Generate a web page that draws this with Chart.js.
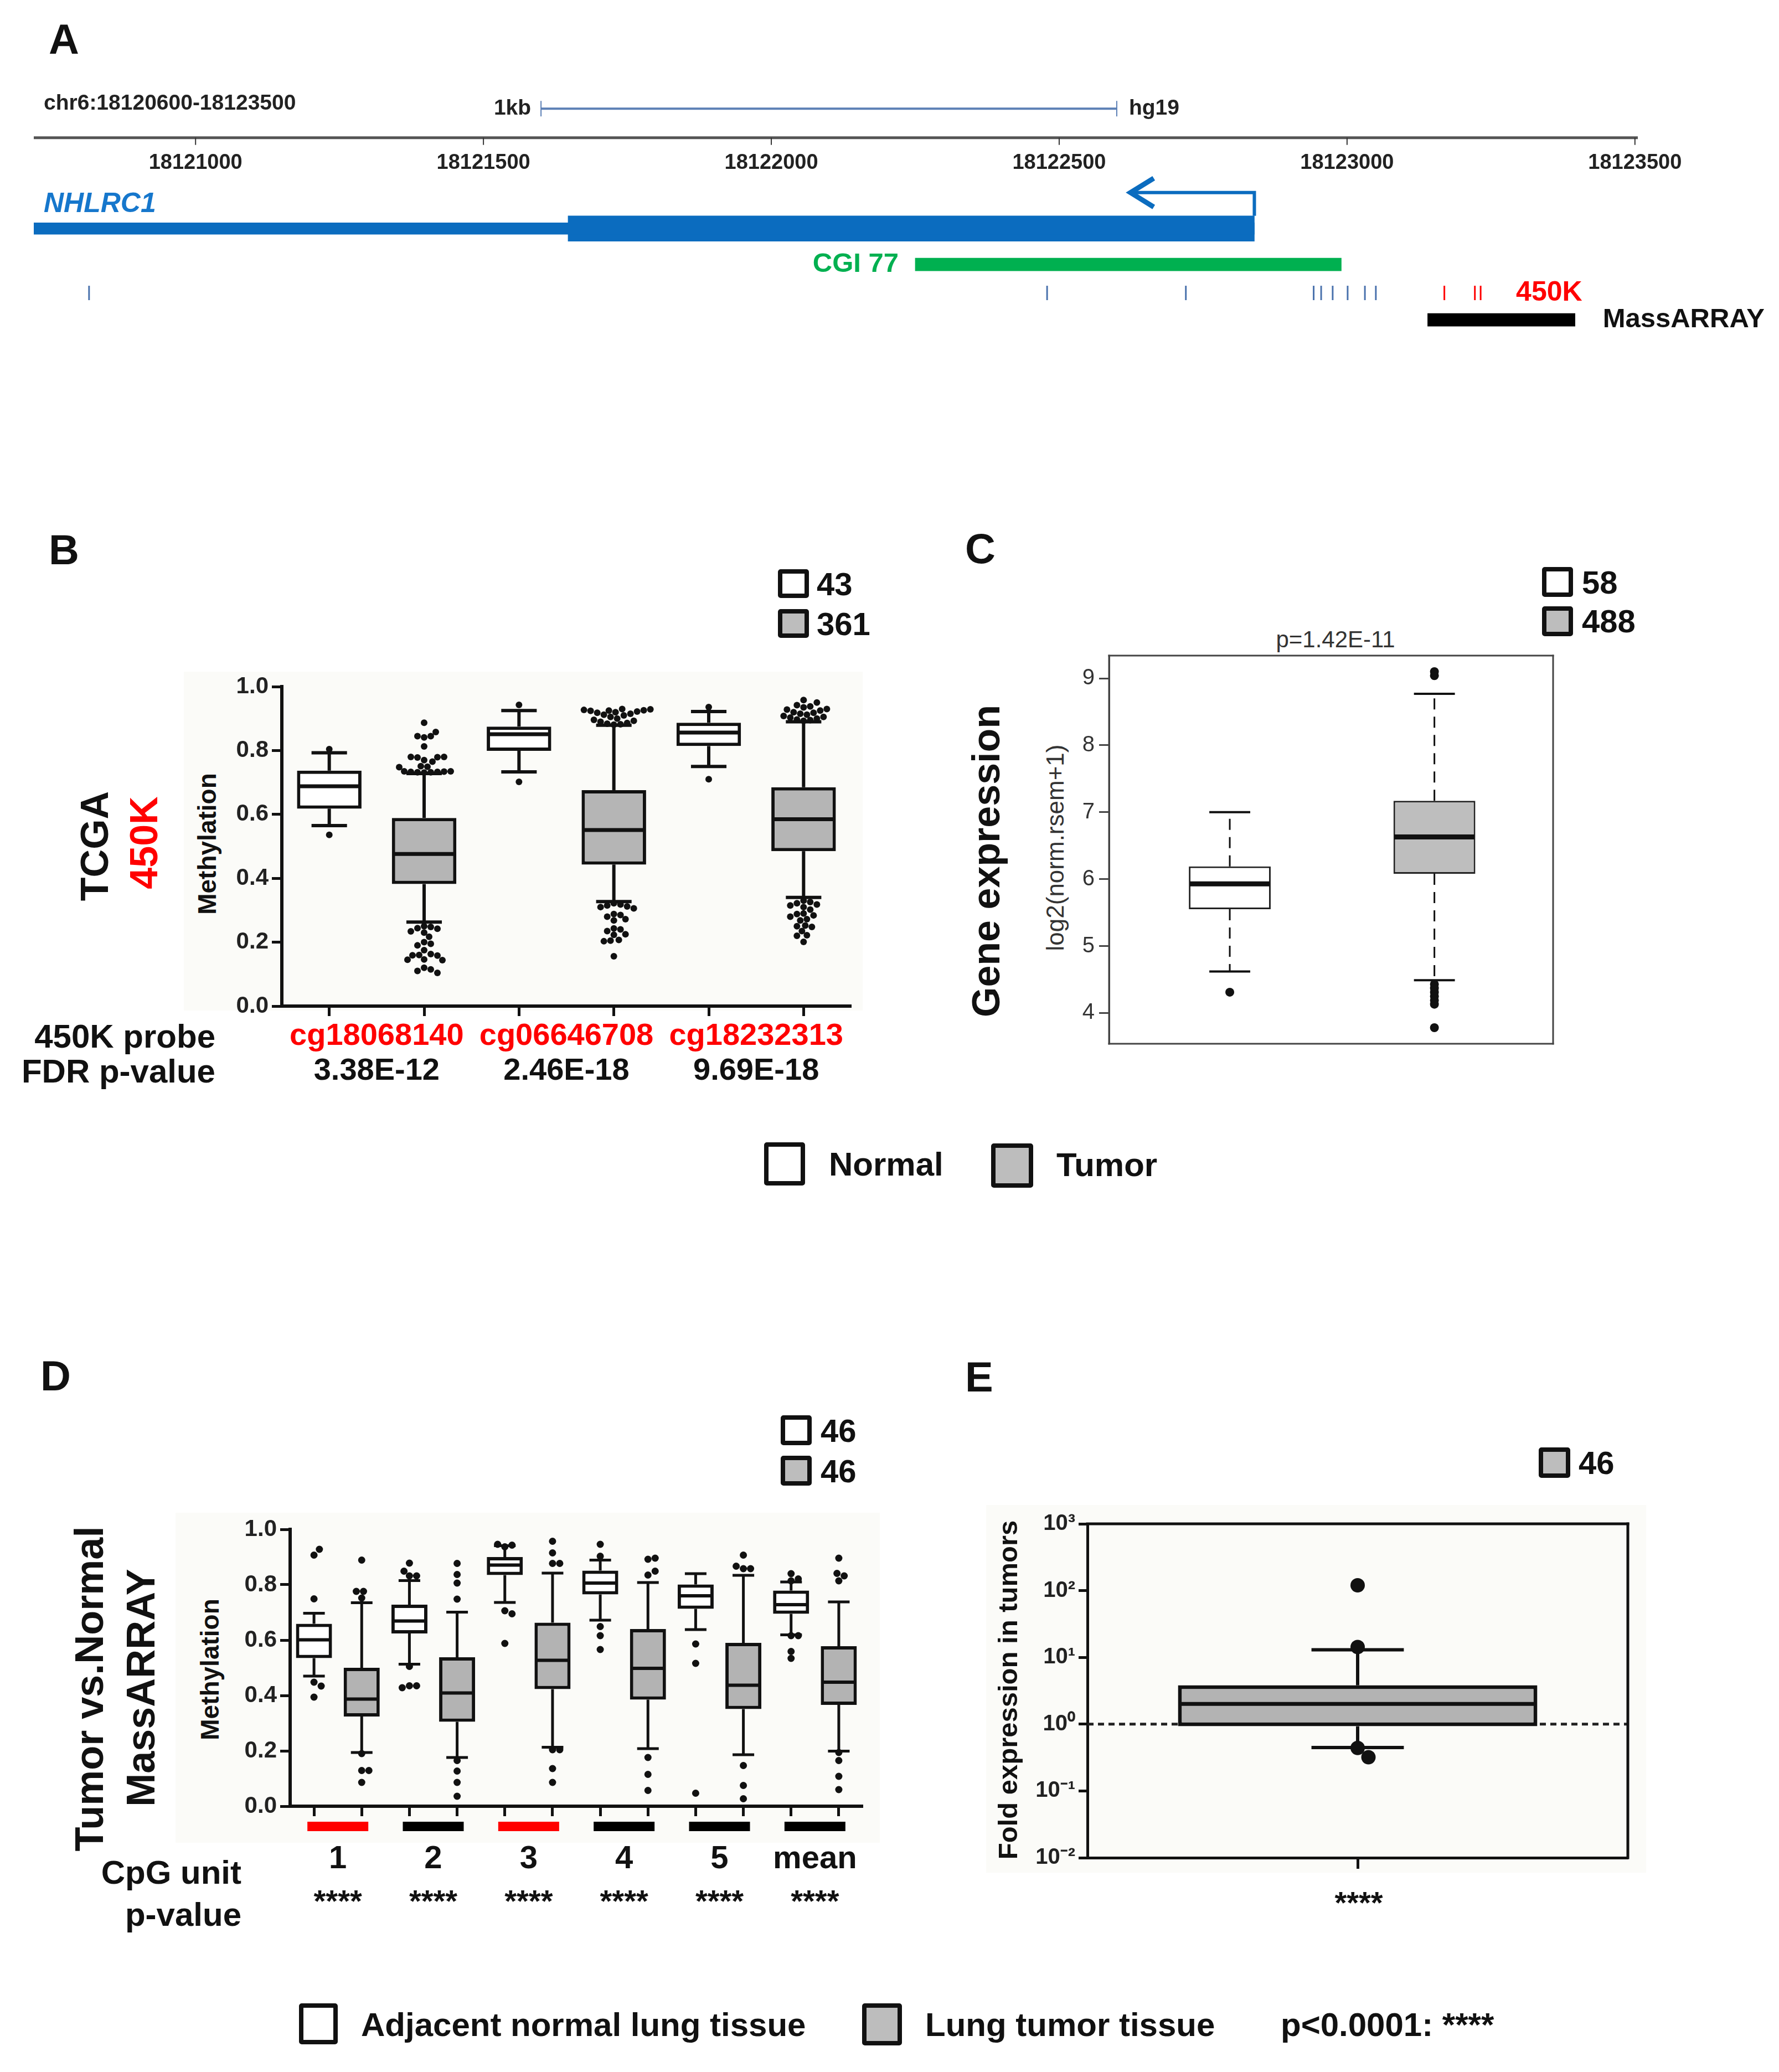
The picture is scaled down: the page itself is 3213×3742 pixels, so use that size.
<!DOCTYPE html>
<html lang="en">
<head>
<meta charset="utf-8">
<title>NHLRC1 methylation and expression</title>
<script src="https://cdn.jsdelivr.net/npm/chart.js@4.4.1/dist/chart.umd.min.js"></script>
<style>
  html, body { margin: 0; padding: 0; background: #fff; }
  #page { position: relative; width: 3213px; height: 3742px; overflow: hidden;
          font-family: "Liberation Sans", Arial, Helvetica, sans-serif; color: #111; }
  #page canvas { position: absolute; }
  .t { position: absolute; white-space: nowrap; line-height: 1; font-weight: bold; }
  .vc { transform: translateY(-50%); }
  .rc { transform: translate(-100%, -50%); }
  .cc { transform: translate(-50%, -50%); }
  .rot { transform: translate(-50%, -50%) rotate(-90deg); }
  .key { position: absolute; box-sizing: border-box; border: 8px solid #111; border-radius: 5px; background: #fff; }
  .key.g { background: #bdbdbd; }
  .bg { position: absolute; background: #fbfbf8; }
  .letter { font-size: 76px; }
</style>
</head>
<body>
<div id="page">
  <!-- faint plot backgrounds -->
  <div class="bg" style="left:332px;top:1213px;width:1226px;height:612px"></div>
  <div class="bg" style="left:317px;top:2732px;width:1272px;height:596px"></div>
  <div class="bg" style="left:1781px;top:2718px;width:1192px;height:664px"></div>

  <!-- panel letters -->
  <div class="t letter" style="left:88px;top:33px">A</div>
  <div class="t letter" style="left:88px;top:955px">B</div>
  <div class="t letter" style="left:1743px;top:953px">C</div>
  <div class="t letter" style="left:73px;top:2447px">D</div>
  <div class="t letter" style="left:1743px;top:2449px">E</div>

  <canvas id="chartA" width="3213" height="690" style="left:0;top:0"></canvas>

  <!-- B labels -->
  <div class="key" style="left:1405px;top:1028px;width:56px;height:52px"></div>
  <div class="t vc" style="left:1475px;top:1055px;font-size:58px">43</div>
  <div class="key g" style="left:1405px;top:1100px;width:56px;height:52px"></div>
  <div class="t vc" style="left:1475px;top:1127px;font-size:58px">361</div>
  <div class="t rot" style="left:171px;top:1528px;font-size:70px">TCGA</div>
  <div class="t rot" style="left:260px;top:1522px;font-size:70px;color:#ff0000">450K</div>
  <div class="t rot" style="left:374px;top:1524px;font-size:46px">Methylation</div>
  <div class="t rc" style="left:389px;top:1872px;font-size:60px">450K probe</div>
  <div class="t rc" style="left:389px;top:1935px;font-size:60px">FDR p-value</div>
  <canvas id="chartB" width="1167" height="800" style="left:380px;top:1190px"></canvas>

  <!-- C labels -->
  <div class="key" style="left:2785px;top:1024px;width:56px;height:54px"></div>
  <div class="t vc" style="left:2857px;top:1052px;font-size:58px">58</div>
  <div class="key g" style="left:2785px;top:1095px;width:56px;height:54px"></div>
  <div class="t vc" style="left:2857px;top:1122px;font-size:58px">488</div>
  <div class="t rot" style="left:1781px;top:1555px;font-size:70px">Gene expression</div>
  <div class="t rot" style="left:1906px;top:1531px;font-size:44px;font-weight:normal;color:#333">log2(norm.rsem+1)</div>
  <div class="t cc" style="left:2412px;top:1155px;font-size:42px;font-weight:normal;color:#333">p=1.42E-11</div>
  <canvas id="chartC" width="950" height="800" style="left:1900px;top:1140px"></canvas>

  <!-- shared legend B/C -->
  <div class="key" style="left:1380px;top:2063px;width:74px;height:78px"></div>
  <div class="t vc" style="left:1497px;top:2103px;font-size:60px">Normal</div>
  <div class="key g" style="left:1790px;top:2065px;width:76px;height:80px"></div>
  <div class="t vc" style="left:1908px;top:2104px;font-size:60px">Tumor</div>

  <!-- D labels -->
  <div class="key" style="left:1410px;top:2556px;width:56px;height:54px"></div>
  <div class="t vc" style="left:1482px;top:2584px;font-size:58px">46</div>
  <div class="key g" style="left:1410px;top:2629px;width:56px;height:54px"></div>
  <div class="t vc" style="left:1482px;top:2657px;font-size:58px">46</div>
  <div class="t rot" style="left:161px;top:3050px;font-size:72px">Tumor vs.Normal</div>
  <div class="t rot" style="left:254px;top:3048px;font-size:72px">MassARRAY</div>
  <div class="t rot" style="left:379px;top:3015px;font-size:46px">Methylation</div>
  <div class="t rc" style="left:436px;top:3382px;font-size:60px">CpG unit</div>
  <div class="t rc" style="left:436px;top:3458px;font-size:60px">p-value</div>
  <canvas id="chartD" width="1178" height="758" style="left:390px;top:2712px"></canvas>

  <!-- E labels -->
  <div class="key g" style="left:2779px;top:2614px;width:57px;height:55px"></div>
  <div class="t vc" style="left:2851px;top:2642px;font-size:58px">46</div>
  <div class="t rot" style="left:1820px;top:3052px;font-size:49px">Fold expression in tumors</div>
  <div class="t cc" style="left:2454px;top:3436px;font-size:56px">****</div>
  <canvas id="chartE" width="1200" height="760" style="left:1780px;top:2700px"></canvas>

  <!-- bottom legend D/E -->
  <div class="key" style="left:540px;top:3618px;width:70px;height:74px"></div>
  <div class="t vc" style="left:652px;top:3657px;font-size:60px">Adjacent normal lung tissue</div>
  <div class="key g" style="left:1557px;top:3618px;width:72px;height:76px"></div>
  <div class="t vc" style="left:1671px;top:3657px;font-size:60px">Lung tumor tissue</div>
  <div class="t vc" style="left:2313px;top:3657px;font-size:60px">p&lt;0.0001: ****</div>
</div>

<script>
// ---------- A: hg19 region around NHLRC1 ----------
const regionLabel = 'chr6:18120600-18123500';
const genomeRange = [18120719, 18123505];
const genomeTicks = [18121000, 18121500, 18122000, 18122500, 18123000, 18123500];
const scaleBar = [18121600, 18122600];
const geneName = 'NHLRC1';
const geneExon = [18120600, 18122839];
const geneCds = [18121647, 18122839];
const geneTss = 18122839;
const tssArrowTip = 18122620;
const cgiName = 'CGI 77';
const cgiRange = [18122250, 18122990];
const massArrayRange = [18123140, 18123396];
const probeSites = [18120815, 18122479, 18122720, 18122942, 18122955, 18122975, 18123001, 18123031, 18123050];
const studiedProbeSites = [18123169, 18123222, 18123232];

// ---------- B: TCGA 450K methylation ----------
const tcgaProbes = ['cg18068140', 'cg06646708', 'cg18232313'];
const tcgaFdr = ['3.38E-12', '2.46E-18', '9.69E-18'];
const methTicks = [0, 0.2, 0.4, 0.6, 0.8, 1.0];
// [low whisker, Q1, median, Q3, high whisker]
const tcgaNormalStats = [[0.565, 0.618, 0.688, 0.737, 0.793], [0.733, 0.799, 0.851, 0.875, 0.925], [0.750, 0.814, 0.856, 0.887, 0.922]];
const tcgaTumorStats = [[0.263, 0.382, 0.476, 0.589, 0.728], [0.327, 0.443, 0.551, 0.676, 0.879], [0.340, 0.485, 0.585, 0.685, 0.890]];
const tcgaNormalOutliers = [[0.804, 0.536], [0.943, 0.702], [0.936, 0.710]];
const tcgaTumorOutliers = [
  [0.887, 0.858, 0.845, 0.845, 0.841, 0.813, 0.780, 0.780, 0.779, 0.778, 0.770, 0.765, 0.751, 0.749, 0.748, 0.735, 0.735, 0.734, 0.733, 0.733, 0.732, 0.732, 0.731,
   0.250, 0.248, 0.244, 0.242, 0.234, 0.230, 0.217, 0.200, 0.195, 0.190, 0.175, 0.163, 0.160, 0.159, 0.158, 0.146, 0.145, 0.144, 0.120, 0.115, 0.110, 0.104],
  [0.930, 0.929, 0.927, 0.926, 0.925, 0.924, 0.922, 0.920, 0.918, 0.915, 0.912, 0.910, 0.905, 0.900, 0.896, 0.893, 0.890, 0.886, 0.884, 0.882, 0.881,
   0.322, 0.318, 0.315, 0.312, 0.310, 0.306, 0.288, 0.285, 0.280, 0.272, 0.268, 0.243, 0.240, 0.235, 0.225, 0.223, 0.207, 0.205, 0.203, 0.156],
  [0.958, 0.950, 0.942, 0.938, 0.935, 0.930, 0.928, 0.925, 0.920, 0.918, 0.915, 0.912, 0.908, 0.905, 0.903, 0.900, 0.897, 0.895, 0.893,
   0.330, 0.326, 0.322, 0.318, 0.315, 0.310, 0.302, 0.290, 0.288, 0.284, 0.280, 0.272, 0.268, 0.252, 0.250, 0.248, 0.235, 0.222, 0.220, 0.201]
];

// ---------- C: TCGA gene expression ----------
const exprGroups = ['Normal', 'Tumor'];
const exprTicks = [4, 5, 6, 7, 8, 9];
const exprStats = [[4.62, 5.55, 5.93, 6.19, 7.00], [4.49, 6.08, 6.63, 7.17, 8.77]];
const exprOutliers = [[4.31], [9.10, 9.04, 4.43, 4.37, 4.31, 4.25, 4.19, 4.13, 3.78]];

// ---------- D: MassARRAY methylation ----------
const cpgUnits = ['1', '2', '3', '4', '5', 'mean'];
const cpgPvalues = ['****', '****', '****', '****', '****', '****'];
const cpgIn450K = [true, false, true, false, false, false];
const massNormalStats = [
  [0.470, 0.535, 0.601, 0.659, 0.697], [0.513, 0.624, 0.669, 0.728, 0.815], [0.736, 0.835, 0.871, 0.900, 0.941],
  [0.672, 0.765, 0.806, 0.851, 0.889], [0.638, 0.713, 0.760, 0.801, 0.840], [0.619, 0.695, 0.728, 0.779, 0.810]];
const massTumorStats = [
  [0.194, 0.324, 0.387, 0.500, 0.735], [0.176, 0.305, 0.409, 0.538, 0.701], [0.213, 0.423, 0.527, 0.663, 0.842],
  [0.208, 0.385, 0.498, 0.640, 0.808], [0.186, 0.351, 0.437, 0.590, 0.834], [0.199, 0.366, 0.448, 0.578, 0.738]];
const massNormalOutliers = [
  [0.928, 0.907, 0.749, 0.448, 0.434, 0.394], [0.878, 0.849, 0.832, 0.832, 0.505, 0.435, 0.428, 0.435],
  [0.946, 0.943, 0.937, 0.706, 0.695, 0.588], [0.946, 0.903, 0.649, 0.616, 0.566],
  [0.586, 0.516, 0.047], [0.840, 0.821, 0.814, 0.616, 0.616, 0.559, 0.534]];
const massTumorOutliers = [
  [0.889, 0.776, 0.776, 0.752, 0.190, 0.129, 0.129, 0.086], [0.877, 0.837, 0.806, 0.748, 0.165, 0.127, 0.086, 0.036],
  [0.957, 0.915, 0.877, 0.877, 0.204, 0.204, 0.136, 0.086], [0.896, 0.892, 0.849, 0.835, 0.176, 0.115, 0.057],
  [0.907, 0.867, 0.858, 0.858, 0.147, 0.075, 0.027], [0.896, 0.841, 0.832, 0.814, 0.194, 0.165, 0.108, 0.060]];

// ---------- E: qPCR fold expression ----------
const foldGroups = ['Tumor'];
const foldTicks = [0.01, 0.1, 1, 10, 100, 1000];
const foldStats = [[0.447, 0.93, 2.01, 3.82, 13.0]];
const foldOutliers = [[120, 14.3, 0.44, 0.32]];

// ---------- shared helpers ----------
const FONT = '"Liberation Sans", Arial, Helvetica, sans-serif';
Chart.defaults.font.family = FONT;
Chart.defaults.color = '#111';
const geneBlue = '#0b6cbf';

const base = {
  responsive: false, animation: false, devicePixelRatio: 1, events: [],
  plugins: { legend: { display: false }, tooltip: { enabled: false } }
};
const boxRange = s => (s ? [s[1], s[3]] : null);
const interleave = (a, b) => a.flatMap((v, i) => [v, b[i]]);
const none = n => new Array(n).fill(null);

function seg(ctx, x1, y1, x2, y2) {
  ctx.beginPath(); ctx.moveTo(x1, y1); ctx.lineTo(x2, y2); ctx.stroke();
}

// simple beeswarm: put each dot at the nearest free slot left/right of the centre
function swarm(cx, pys, r) {
  const placed = [];
  const step = r * 0.5, minD = r * 1.9;
  return pys.map(py => {
    let px = cx;
    for (let k = 0; k < 400; k++) {
      px = cx + Math.ceil(k / 2) * step * (k % 2 ? 1 : -1);
      if (placed.every(p => Math.hypot(p[0] - px, p[1] - py) >= minD)) break;
    }
    placed.push([px, py]);
    return [px, py];
  });
}

// whiskers, caps, medians and outliers on top of the floating bars
function boxPlugin(cfg) {
  return {
    id: 'boxParts',
    beforeDatasetsDraw(chart) { if (cfg.before) cfg.before(chart); },
    afterDatasetsDraw(chart) {
      const ctx = chart.ctx, ys = chart.scales.y, st = cfg.style;
      cfg.series.forEach(s => {
        const meta = chart.getDatasetMeta(s.dataset);
        s.stats.forEach((five, i) => {
          if (!five) return;
          const bar = meta.data[i];
          const cx = bar.x, w = bar.width;
          const [lo, q1, med, q3, hi] = five.map(v => ys.getPixelForValue(v));
          ctx.save();
          ctx.strokeStyle = st.color;
          ctx.lineWidth = st.whisker;
          ctx.setLineDash(st.dash || []);
          seg(ctx, cx, q3, cx, hi);
          seg(ctx, cx, q1, cx, lo);
          ctx.setLineDash([]);
          ctx.lineWidth = st.cap;
          const half = w * st.capRatio / 2;
          seg(ctx, cx - half, hi, cx + half, hi);
          seg(ctx, cx - half, lo, cx + half, lo);
          ctx.lineWidth = st.median;
          seg(ctx, cx - w / 2 + st.borderW / 2, med, cx + w / 2 - st.borderW / 2, med);
          const pys = (s.outliers[i] || []).map(v => ys.getPixelForValue(v));
          const mid = (q1 + q3) / 2;
          const up = pys.filter(p => p < mid).sort((a, b) => b - a);
          const dn = pys.filter(p => p >= mid).sort((a, b) => a - b);
          ctx.fillStyle = st.color;
          [up, dn].forEach(g => {
            const pts = st.swarm === false ? g.map(p => [cx, p]) : swarm(cx, g, st.dot);
            pts.forEach(([px, py]) => { ctx.beginPath(); ctx.arc(px, py, st.dot, 0, Math.PI * 2); ctx.fill(); });
          });
          ctx.restore();
        });
      });
    }
  };
}

// labels centred under each normal/tumour pair
function pairLabels(cfg) {
  return {
    id: 'pairLabels',
    afterDraw(chart) {
      const ctx = chart.ctx, xs = chart.scales.x, bottom = chart.chartArea.bottom;
      ctx.save();
      ctx.textAlign = 'center'; ctx.textBaseline = 'middle';
      cfg.labels.forEach((lab, i) => {
        const cx = (xs.getPixelForTick(2 * i) + xs.getPixelForTick(2 * i + 1)) / 2;
        if (cfg.barColors) {
          ctx.fillStyle = cfg.barColors[i];
          ctx.fillRect(cx - cfg.barW / 2, bottom + cfg.barDy, cfg.barW, cfg.barH);
        }
        ctx.font = cfg.font; ctx.fillStyle = cfg.colors ? cfg.colors[i] : '#111';
        ctx.fillText(lab, cx, bottom + cfg.dy1);
        ctx.font = cfg.font2; ctx.fillStyle = '#111';
        ctx.fillText(cfg.sub[i], cx, bottom + cfg.dy2);
      });
      ctx.restore();
    }
  };
}

function framePlugin(color, width, sides) {
  return {
    id: 'frame',
    afterDraw(chart) {
      const { ctx, chartArea: a } = chart;
      ctx.save(); ctx.strokeStyle = color; ctx.lineWidth = width; ctx.lineCap = 'square';
      if (sides.includes('t')) seg(ctx, a.left, a.top, a.right, a.top);
      if (sides.includes('r')) seg(ctx, a.right, a.top, a.right, a.bottom);
      if (sides.includes('b')) seg(ctx, a.left, a.bottom, a.right, a.bottom);
      if (sides.includes('l')) seg(ctx, a.left, a.top, a.left, a.bottom);
      ctx.restore();
    }
  };
}

function methylY(width) {
  return {
    min: 0, max: 1,
    afterBuildTicks: s => { s.ticks = methTicks.map(v => ({ value: v })); },
    ticks: { callback: v => v.toFixed(1), font: { size: 42, weight: 'bold' }, color: '#222', padding: 6 },
    grid: { drawOnChartArea: false, tickLength: 18, tickWidth: 5, tickColor: '#111' },
    border: { width: 6, color: '#111' },
    afterFit: s => { s.width = width; }
  };
}
function methylX(height) {
  return {
    offset: true,
    ticks: { display: false },
    grid: { offset: false, drawOnChartArea: false, tickLength: 18, tickWidth: 5, tickColor: '#111' },
    border: { width: 6, color: '#111' },
    afterFit: s => { s.height = height; }
  };
}

// ---------- A ----------
// vertical placement of each track row (canvas pixels)
const trackY = { region: 180, scaleBar: 189, axis: 244, arrow: 348, label: 370, gene: 416, cgi: 484, probe: 538, mass: 589 };

const genomeDecor = {
  id: 'genomeDecor',
  afterDatasetsDraw(chart) {
    const { ctx, chartArea } = chart;
    const X = v => chart.scales.x.getPixelForValue(v);
    const Y = v => chart.scales.y.getPixelForValue(v);
    ctx.save();
    ctx.textBaseline = 'middle';

    // coordinate ruler, drawn from the x scale
    const ay = Y(trackY.axis);
    ctx.strokeStyle = '#555'; ctx.lineWidth = 5;
    seg(ctx, chartArea.left, ay, chartArea.right, ay);
    ctx.strokeStyle = '#333'; ctx.lineWidth = 2;
    ctx.font = `bold 38px ${FONT}`; ctx.fillStyle = '#222'; ctx.textAlign = 'center';
    genomeTicks.forEach(v => {
      const x = X(v);
      seg(ctx, x, ay, x, ay + 13);
      ctx.fillText(String(v), x, ay + 46);
    });

    ctx.font = `bold 39px ${FONT}`; ctx.textAlign = 'left';
    ctx.fillText(regionLabel, chartArea.left + 18, Y(trackY.region));

    const s0 = X(scaleBar[0]), s1 = X(scaleBar[1]), sy = Y(trackY.scaleBar);
    ctx.strokeStyle = '#5b7fb5'; ctx.lineWidth = 4;
    seg(ctx, s0, sy, s1, sy);
    ctx.lineWidth = 2;
    seg(ctx, s0, sy - 14, s0, sy + 14);
    seg(ctx, s1, sy - 14, s1, sy + 14);
    ctx.font = `bold 39px ${FONT}`; ctx.fillStyle = '#222';
    ctx.textAlign = 'right'; ctx.fillText('1kb', s0 - 18, sy);
    ctx.textAlign = 'left'; ctx.fillText('hg19', s1 + 22, sy);

    const tx = X(geneTss), ax = X(tssArrowTip), ary = Y(trackY.arrow), gy = Y(trackY.gene) - 23;
    ctx.strokeStyle = geneBlue; ctx.lineWidth = 6; ctx.lineJoin = 'miter';
    ctx.beginPath(); ctx.moveTo(tx, gy); ctx.lineTo(tx, ary); ctx.lineTo(ax + 6, ary); ctx.stroke();
    ctx.lineWidth = 9;
    ctx.beginPath(); ctx.moveTo(ax + 46, ary - 26); ctx.lineTo(ax + 4, ary); ctx.lineTo(ax + 46, ary + 26); ctx.stroke();

    ctx.font = `italic bold 50px ${FONT}`; ctx.fillStyle = '#1677cc'; ctx.textAlign = 'left';
    ctx.fillText(geneName, chartArea.left + 18, Y(trackY.label));
    ctx.font = `bold 49px ${FONT}`; ctx.fillStyle = '#00b050'; ctx.textAlign = 'right';
    ctx.fillText(cgiName, X(cgiRange[0]) - 30, Y(trackY.cgi));
    ctx.font = `bold 50px ${FONT}`; ctx.fillStyle = '#ff0000'; ctx.textAlign = 'left';
    ctx.fillText('450K', X(studiedProbeSites[studiedProbeSites.length - 1]) + 64, Y(trackY.probe));
    ctx.font = `bold 49px ${FONT}`; ctx.fillStyle = '#111';
    ctx.fillText('MassARRAY', X(massArrayRange[1]) + 50, Y(trackY.mass));
    ctx.restore();
  }
};

const trackBar = { stack: 'track', indexAxis: 'y', borderWidth: 0 };
new Chart(document.getElementById('chartA'), {
  type: 'bar',
  data: {
    datasets: [
      { ...trackBar, label: 'NHLRC1 exon', data: [{ y: trackY.gene, x: geneExon }], backgroundColor: geneBlue, barThickness: 21 },
      { ...trackBar, label: 'NHLRC1 CDS', data: [{ y: trackY.gene, x: geneCds }], backgroundColor: geneBlue, barThickness: 46 },
      { ...trackBar, label: cgiName, data: [{ y: trackY.cgi, x: cgiRange }], backgroundColor: '#00b050', barThickness: 23 },
      { ...trackBar, label: 'MassARRAY', data: [{ y: trackY.mass, x: massArrayRange }], backgroundColor: '#000', barThickness: 23 },
      { type: 'scatter', label: 'CpG probes', data: probeSites.map(p => ({ x: p, y: trackY.probe })),
        pointStyle: 'line', rotation: 90, radius: 13, borderWidth: 3, borderColor: '#4a72ad' },
      { type: 'scatter', label: '450K probes', data: studiedProbeSites.map(p => ({ x: p, y: trackY.probe })),
        pointStyle: 'line', rotation: 90, radius: 13, borderWidth: 3, borderColor: '#ff0000' }
    ]
  },
  options: {
    ...base,
    indexAxis: 'y',
    layout: { padding: { left: 61, right: 255, top: 0, bottom: 0 } },
    scales: {
      x: { type: 'linear', min: genomeRange[0], max: genomeRange[1], offset: false, stacked: false, display: false },
      y: { type: 'linear', min: 0, max: 690, reverse: true, offset: false, grace: 0, grid: { offset: false }, display: false }
    }
  },
  plugins: [genomeDecor]
});

// ---------- B ----------
const nB = tcgaProbes.length;
const boxB = { borderColor: '#111', borderWidth: 6, borderSkipped: false, grouped: false, barPercentage: 0.68, categoryPercentage: 1 };
new Chart(document.getElementById('chartB'), {
  type: 'bar',
  data: {
    labels: interleave(tcgaProbes.map(p => p + ' normal'), tcgaProbes.map(p => p + ' tumor')),
    datasets: [
      { ...boxB, label: 'Normal', data: interleave(tcgaNormalStats.map(boxRange), none(nB)), backgroundColor: '#fff' },
      { ...boxB, label: 'Tumor', data: interleave(none(nB), tcgaTumorStats.map(boxRange)), backgroundColor: '#b5b5b5' }
    ]
  },
  options: {
    ...base,
    layout: { padding: { left: 0, right: 10, top: 50, bottom: 0 } },
    scales: { x: methylX(173), y: methylY(129) }
  },
  plugins: [
    boxPlugin({
      series: [
        { dataset: 0, stats: interleave(tcgaNormalStats, none(nB)), outliers: interleave(tcgaNormalOutliers, none(nB)) },
        { dataset: 1, stats: interleave(none(nB), tcgaTumorStats), outliers: interleave(none(nB), tcgaTumorOutliers) }
      ],
      style: { color: '#111', whisker: 6, cap: 6, capRatio: 0.55, median: 7, dot: 6, borderW: 6 }
    }),
    pairLabels({ labels: tcgaProbes, colors: tcgaProbes.map(() => '#ff0000'), sub: tcgaFdr,
      font: `bold 56px ${FONT}`, font2: `bold 56px ${FONT}`, dy1: 55, dy2: 118 })
  ]
});

// ---------- C ----------
const boxC = { borderColor: '#222', borderWidth: 3, borderSkipped: false, grouped: false, barPercentage: 0.4, categoryPercentage: 1 };
new Chart(document.getElementById('chartC'), {
  type: 'bar',
  data: {
    datasets: exprGroups.map((g, i) => ({
      ...boxC, label: g, data: [{ x: i + 1, y: boxRange(exprStats[i]) }], backgroundColor: i ? '#bebebe' : '#fff'
    }))
  },
  options: {
    ...base,
    layout: { padding: { left: 0, right: 45, top: 44, bottom: 55 } },
    scales: {
      x: { type: 'linear', min: 0.41, max: 2.58, offset: false, display: false,
           afterBuildTicks: s => { s.ticks = exprGroups.map((g, i) => ({ value: i + 1 })); } },
      y: {
        min: 3.54, max: 9.34,
        afterBuildTicks: s => { s.ticks = exprTicks.map(v => ({ value: v })); },
        ticks: { callback: v => String(v), font: { size: 40 }, color: '#333', padding: 8 },
        grid: { drawOnChartArea: false, tickLength: 18, tickWidth: 3, tickColor: '#444' },
        border: { width: 3, color: '#444' },
        afterFit: s => { s.width = 103; }
      }
    }
  },
  plugins: [
    boxPlugin({
      series: exprGroups.map((g, i) => ({ dataset: i, stats: [exprStats[i]], outliers: [exprOutliers[i]] })),
      style: { color: '#111', whisker: 3, dash: [20, 13], cap: 4, capRatio: 0.5, median: 9, dot: 8, borderW: 3, swarm: false }
    }),
    framePlugin('#444', 3, 'trbl')
  ]
});

// ---------- D ----------
const nD = cpgUnits.length;
const boxD = { borderColor: '#111', borderWidth: 6, borderSkipped: false, grouped: false, barPercentage: 0.755, categoryPercentage: 1 };
new Chart(document.getElementById('chartD'), {
  type: 'bar',
  data: {
    labels: interleave(cpgUnits.map(u => u + ' normal'), cpgUnits.map(u => u + ' tumor')),
    datasets: [
      { ...boxD, label: 'Adjacent normal lung tissue', data: interleave(massNormalStats.map(boxRange), none(nD)), backgroundColor: '#fff' },
      { ...boxD, label: 'Lung tumor tissue', data: interleave(none(nD), massTumorStats.map(boxRange)), backgroundColor: '#b3b3b3' }
    ]
  },
  options: {
    ...base,
    layout: { padding: { left: 0, right: 10, top: 50, bottom: 0 } },
    scales: { x: methylX(208), y: methylY(134) }
  },
  plugins: [
    boxPlugin({
      series: [
        { dataset: 0, stats: interleave(massNormalStats, none(nD)), outliers: interleave(massNormalOutliers, none(nD)) },
        { dataset: 1, stats: interleave(none(nD), massTumorStats), outliers: interleave(none(nD), massTumorOutliers) }
      ],
      style: { color: '#111', whisker: 5, cap: 5, capRatio: 0.6, median: 6, dot: 6.5, borderW: 6 }
    }),
    pairLabels({ labels: cpgUnits, sub: cpgPvalues, font: `bold 58px ${FONT}`, font2: `bold 56px ${FONT}`,
      dy1: 96, dy2: 175, barColors: cpgIn450K.map(b => (b ? '#ff0000' : '#000')), barW: 110, barH: 17, barDy: 28 })
  ]
});

// ---------- E ----------
const supDigits = { '-': '\u207B', '0': '\u2070', '1': '\u00B9', '2': '\u00B2', '3': '\u00B3' };
const powerLabel = v => '10' + String(Math.round(Math.log10(v))).split('').map(c => supDigits[c]).join('');
new Chart(document.getElementById('chartE'), {
  type: 'bar',
  data: {
    labels: foldGroups,
    datasets: [{
      label: 'Fold expression', data: foldStats.map(boxRange), backgroundColor: '#b3b3b3',
      borderColor: '#111', borderWidth: 7, borderSkipped: false, grouped: false, barPercentage: 0.665, categoryPercentage: 1
    }]
  },
  options: {
    ...base,
    layout: { padding: { left: 0, right: 40, top: 52, bottom: 0 } },
    scales: {
      x: {
        offset: true,
        ticks: { display: false },
        grid: { offset: false, drawOnChartArea: false, tickLength: 20, tickWidth: 5, tickColor: '#111' },
        border: { width: 5, color: '#111' },
        afterFit: s => { s.height = 105; }
      },
      y: {
        type: 'logarithmic', min: 0.01, max: 1000,
        afterBuildTicks: s => { s.ticks = foldTicks.map(v => ({ value: v })); },
        ticks: { callback: v => powerLabel(v), font: { size: 40, weight: 'bold' }, color: '#222', padding: 6 },
        grid: { drawOnChartArea: false, tickLength: 16, tickWidth: 5, tickColor: '#111' },
        border: { width: 5, color: '#111' },
        afterFit: s => { s.width = 184; }
      }
    }
  },
  plugins: [
    boxPlugin({
      series: [{ dataset: 0, stats: foldStats, outliers: foldOutliers }],
      style: { color: '#111', whisker: 6, cap: 6, capRatio: 0.257, median: 7, dot: 13, borderW: 7 },
      before: chart => {
        const { ctx, chartArea: a } = chart;
        const y1 = chart.scales.y.getPixelForValue(1);
        ctx.save(); ctx.strokeStyle = '#222'; ctx.lineWidth = 5; ctx.setLineDash([11, 8]);
        seg(ctx, a.left, y1, a.right, y1);
        ctx.restore();
      }
    }),
    framePlugin('#111', 5, 'tr')
  ]
});
</script>
</body>
</html>
